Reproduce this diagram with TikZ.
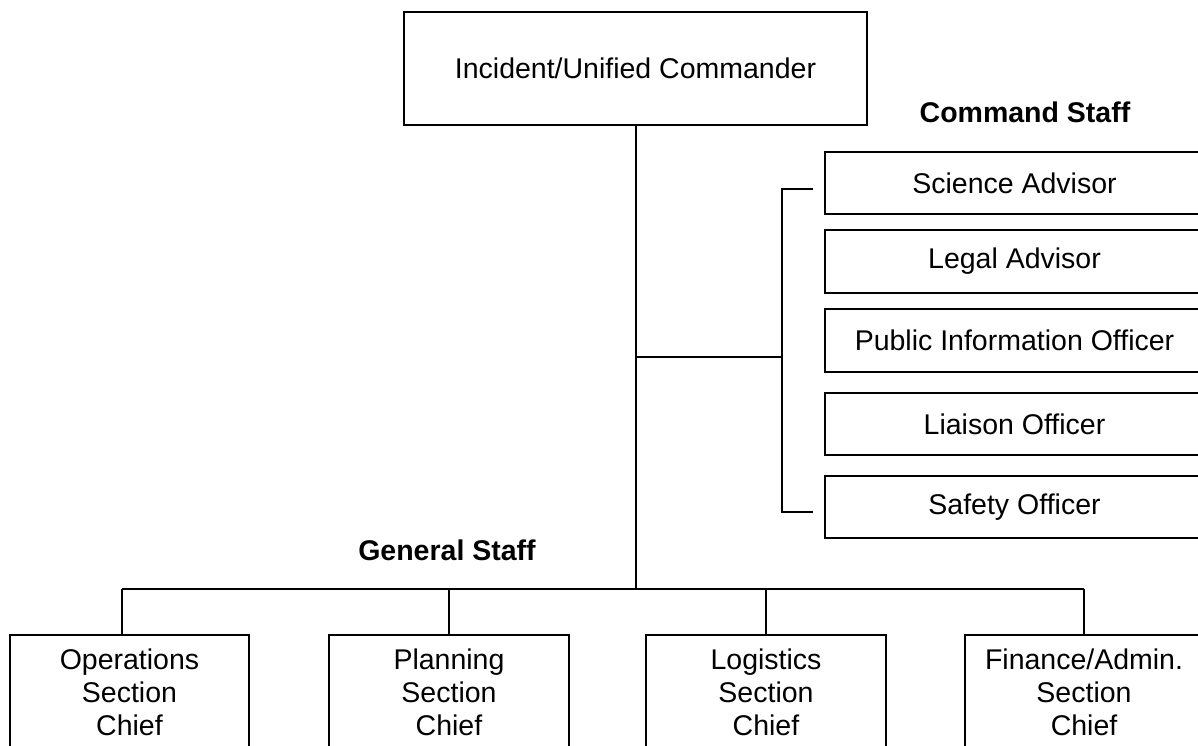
\documentclass[tikz,border=0pt]{standalone}
\usepackage{fontspec}
\setmainfont{Liberation Sans}
\begin{document}
\begin{tikzpicture}[x=1pt,y=-1pt,
  line width=1.7pt,
  box/.style={draw, line width=1.7pt, inner sep=0pt, align=center,
    font=\fontsize{28.5}{33}\selectfont},
  lbl/.style={inner sep=0pt, font=\fontsize{28.5}{33}\selectfont\bfseries},
  conn/.style={draw, line width=1.7pt}]
\useasboundingbox (0,0) rectangle (1198,746);
\clip (0,0) rectangle (1198,746);
% top commander
\node[box, minimum width=463, minimum height=113] (cmd) at (635.5,68.5) {Incident/Unified Commander};
% command staff
\node[lbl] (cslbl) at (1025,112) {Command Staff};
\node[box, minimum width=379, minimum height=62] (sci) at (1014.5,183) {Science Advisor};
\node[box, minimum width=379, minimum height=63] (leg) at (1014.5,261.5) {Legal Advisor};
\node[box, minimum width=379, minimum height=63] (pio) at (1014.5,340.5) {Public Information Officer};
\node[box, minimum width=379, minimum height=62] (lia) at (1014.5,424) {Liaison Officer};
\node[box, minimum width=379, minimum height=62] (saf) at (1014.5,507) {Safety Officer};
% general staff
\node[lbl] (gslbl) at (447,550) {General Staff};
\node[box, minimum width=239, minimum height=114] (ops) at (129.5,692) {Operations\\Section\\Chief};
\node[box, minimum width=240, minimum height=114] (pln) at (449,692) {Planning\\Section\\Chief};
\node[box, minimum width=240, minimum height=114] (log) at (766,692) {Logistics\\Section\\Chief};
\node[box, minimum width=238, minimum height=114] (fin) at (1084,692) {Finance/Admin.\\Section\\Chief};
% connector coordinates
\coordinate (trunk) at (636,589);
\coordinate (mid) at (636,357);
\coordinate (br) at (782,357);
\coordinate (btop) at (782,189);
\coordinate (bbot) at (782,512);
\coordinate (ttop) at (813,189);
\coordinate (tbot) at (813,512);
\coordinate (hl) at (122,589);
\coordinate (hr) at (1084,589);
% connectors
\draw[conn] (cmd.south -| trunk) -- (trunk);
\draw[conn] (mid) -- (br);
\draw[conn] (ttop) -- (btop) -- (bbot) -- (tbot);
\draw[conn] (hl) -- (hr);
\draw[conn] (hl) -- (hl |- ops.north);
\draw[conn] (pln.north |- hl) -- (pln.north);
\draw[conn] (log.north |- hl) -- (log.north);
\draw[conn] (fin.north |- hl) -- (fin.north);
\end{tikzpicture}
\end{document}
